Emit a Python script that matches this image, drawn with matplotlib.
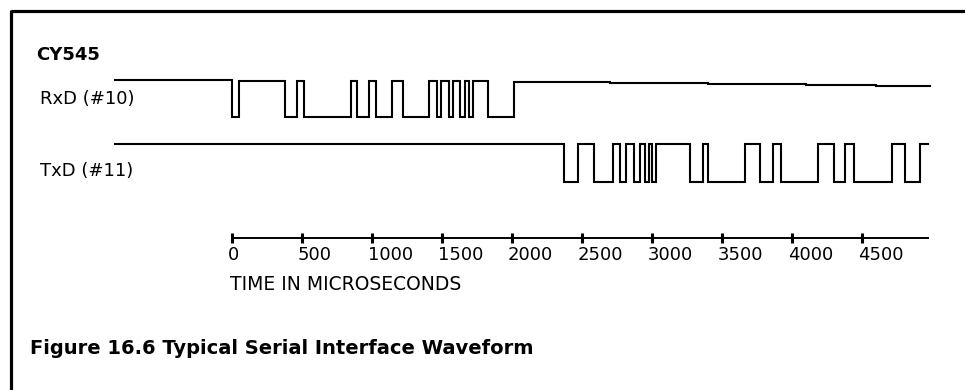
import matplotlib
matplotlib.use("Agg")
import matplotlib.pyplot as plt
from matplotlib.lines import Line2D
from matplotlib.transforms import ScaledTranslation

# RxD (pin 10): edge times in microseconds and the level after each edge (volts)
rxd_t = [-835, 0, 50, 380, 465, 515, 850, 895, 980, 1030, 1145, 1220, 1405, 1465, 1495,
         1550, 1580, 1630, 1665, 1695, 1720, 1830, 2015, 2700, 3400, 4100, 4600, 4985]
rxd_v = [5.1, 0, 5.0, 0, 5.0, 0, 5.0, 0, 5.0, 0, 5.0, 0, 5.0, 0, 5.0,
         0, 5.0, 0, 5.0, 0, 5.0, 0, 4.85, 4.7, 4.55, 4.4, 4.25, 4.25]

# TxD (pin 11)
txd_t = [-835, 2370, 2470, 2585, 2720, 2770, 2815, 2870, 2915, 2950, 2980, 3000, 3030, 3270,
         3365, 3400, 3665, 3770, 3865, 3920, 4185, 4300, 4380, 4445, 4715, 4805, 4915, 4970]
txd_v = [5.0, 0, 5.0, 0, 5.0, 0, 5.0, 0, 5.0, 0, 5.0, 0, 5.0, 0,
         5.0, 0, 5.0, 0, 5.0, 0, 5.0, 0, 5.0, 0, 5.0, 0, 5.0, 5.0]

time_ticks = [0, 500, 1000, 1500, 2000, 2500, 3000, 3500, 4000, 4500]
time_end = 4970

W, H = 965, 390
fig = plt.figure(figsize=(W / 100, H / 100), dpi=100, facecolor="white")

# 0 us sits at x=232 px, 500 us every 70 px
x0 = 232
pxu = 0.14
xlim = (-x0 / pxu, (W - x0) / pxu)


def band(top, bottom):
    # axes rect between two pixel rows (top < bottom)
    return [0, 1 - bottom / H, 1, (bottom - top) / H]


def trace(top, bottom, t, v):
    ax = fig.add_axes(band(top, bottom))
    ax.step(t, v, where="post", color="black", lw=1.5, clip_on=False,
            solid_joinstyle="miter")
    ax.set_xlim(xlim)
    ax.set_ylim(0, 5)
    ax.axis("off")
    return ax


trace(81, 117, rxd_t, rxd_v)
trace(144, 182, txd_t, txd_v)

# time axis
axt = fig.add_axes(band(228, 238))
axt.set_xlim(xlim)
axt.set_yticks([])
for s in ["left", "right", "top"]:
    axt.spines[s].set_visible(False)
axt.spines["bottom"].set_bounds(0, time_end)
axt.spines["bottom"].set_linewidth(1.4)
axt.patch.set_visible(False)
axt.set_xticks(time_ticks)
axt.set_xticklabels([str(v) for v in time_ticks])
axt.tick_params(axis="x", direction="inout", length=7.5, width=2.2, labelsize=13, pad=2)
shift = ScaledTranslation(-4 / 100, 0, fig.dpi_scale_trans)
for lbl in axt.get_xticklabels():
    lbl.set_ha("left")
    lbl.set_transform(lbl.get_transform() + shift)


def ftext(x, y, s, **kw):
    fig.text(x / W, 1 - y / H, s, va="center", ha="left", color="black", **kw)


ftext(36, 55, "CY545", fontsize=13, fontweight="bold")
ftext(40, 99, "RxD (#10)", fontsize=13)
ftext(40, 171, "TxD (#11)", fontsize=13)
ftext(230, 285, "TIME IN MICROSECONDS", fontsize=13.5)
ftext(30, 348, "Figure 16.6 Typical Serial Interface Waveform", fontsize=14, fontweight="bold")

# frame: top and left rules
fig.add_artist(Line2D([11 / W, 1], [1 - 11.3 / H, 1 - 11.3 / H], transform=fig.transFigure,
                      color="black", lw=2.3, solid_capstyle="butt"))
fig.add_artist(Line2D([11 / W, 11 / W], [1 - 10 / H, 0], transform=fig.transFigure,
                      color="black", lw=2.3, solid_capstyle="butt"))

fig.savefig("out.png", dpi=100, facecolor="white")
